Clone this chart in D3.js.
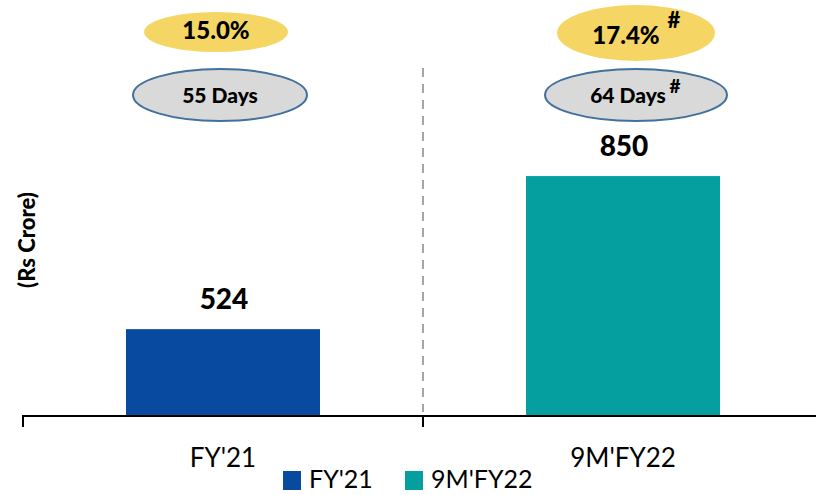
<!DOCTYPE html>
<html><head><meta charset="utf-8">
<script src="https://cdn.jsdelivr.net/npm/d3@7"></script>
<style>body{margin:0;background:#fff}svg{display:block}text{font-family:Lato,"Open Sans",sans-serif}</style>
</head><body><svg id="c" width="816" height="495"></svg>
<script>
const categories = ["FY'21", "9M'FY22"];
const values = [524, 850];
const colors = ["#074A9F", "#069F9F"];
const margins = ["15.0%", "17.4%"];
const days = ["55 Days", "64 Days"];
const hashMark = [false, true];
const yAxisTitle = "(Rs Crore)";

const svg = d3.select("#c");
const x = d3.scaleBand().domain(categories).range([23, 823]).paddingInner(0).paddingOuter(0);
const y = d3.scaleLinear().domain([339, 1225]).range([416, 0]);
const barW = 194;

// dashed separator
svg.append("line").attr("x1", 423).attr("x2", 423).attr("y1", 68).attr("y2", 412)
  .attr("stroke", "#A6A6A6").attr("stroke-width", 2).attr("stroke-dasharray", "9,7");

// bars
svg.selectAll("rect.bar").data(values).join("rect").attr("class", "bar")
  .attr("x", (d, i) => x(categories[i]) + x.bandwidth() / 2 - barW / 2)
  .attr("width", barW)
  .attr("y", d => y(d))
  .attr("height", d => y(339) - y(d))
  .attr("fill", (d, i) => colors[i]);

// value labels
svg.selectAll("text.val").data(values).join("text").attr("class", "val")
  .attr("x", (d, i) => x(categories[i]) + x.bandwidth() / 2 + 1)
  .attr("y", d => y(d) - 20)
  .attr("text-anchor", "middle").attr("font-size", 28).attr("font-weight", 900)
  .text(d => d);

// axis
const axis = d3.axisBottom(x).tickSize(11).tickFormat("");
const ag = svg.append("g").attr("transform", "translate(0,416)").call(axis);
ag.select(".domain").attr("stroke", "#000").attr("stroke-width", 2).attr("d", "M23,11V0H823");
ag.selectAll(".tick").remove();
[23, 423, 823].forEach(px => ag.append("line").attr("x1", px).attr("x2", px).attr("y1", 0).attr("y2", 11).attr("stroke", "#000").attr("stroke-width", 2));

// category labels
svg.selectAll("text.cat").data(categories).join("text").attr("class", "cat")
  .attr("x", d => x(d) + x.bandwidth() / 2)
  .attr("y", 467).attr("text-anchor", "middle").attr("font-size", 26).attr("fill", "#000")
  .text(d => d);

// y title
svg.append("text").attr("transform", "translate(35,240) rotate(-90)")
  .attr("text-anchor", "middle").attr("font-size", 22).attr("font-weight", 900).text(yAxisTitle);

// margin ellipses
const eY = [{cx: 216, cy: 32, rx: 72, ry: 20}, {cx: 636, cy: 33, rx: 79, ry: 28}];
const gY = [{cx: 220, cy: 95, rx: 87, ry: 26}, {cx: 636, cy: 95, rx: 91, ry: 26}];
categories.forEach((c, i) => {
  svg.append("ellipse").attr("cx", eY[i].cx).attr("cy", eY[i].cy).attr("rx", eY[i].rx).attr("ry", eY[i].ry).attr("fill", "#F5D664");
  svg.append("ellipse").attr("cx", gY[i].cx).attr("cy", gY[i].cy).attr("rx", gY[i].rx).attr("ry", gY[i].ry)
    .attr("fill", "#D9D9D9").attr("stroke", "#41719C").attr("stroke-width", 2);
  svg.append("text").attr("x", hashMark[i] ? 626 : 216).attr("y", hashMark[i] ? 44 : 39)
    .attr("text-anchor", "middle").attr("font-size", 24).attr("font-weight", 900).text(margins[i]);
  svg.append("text").attr("x", hashMark[i] ? 628 : 220).attr("y", 103)
    .attr("text-anchor", "middle").attr("font-size", 21).attr("font-weight", 900).text(days[i]);
  if (hashMark[i]) {
    svg.append("text").attr("x", 674).attr("y", 28).attr("text-anchor", "middle").attr("font-size", 22).attr("font-weight", 900).text("#");
    svg.append("text").attr("x", 675).attr("y", 93).attr("text-anchor", "middle").attr("font-size", 19).attr("font-weight", 900).text("#");
  }
});

// legend
const lx = [283, 405];
categories.forEach((c, i) => {
  svg.append("rect").attr("x", lx[i]).attr("y", 471).attr("width", 18).attr("height", 19).attr("fill", colors[i]);
  svg.append("text").attr("x", lx[i] + 26).attr("y", 488).attr("font-size", 25).text(c);
});
</script></body></html>
